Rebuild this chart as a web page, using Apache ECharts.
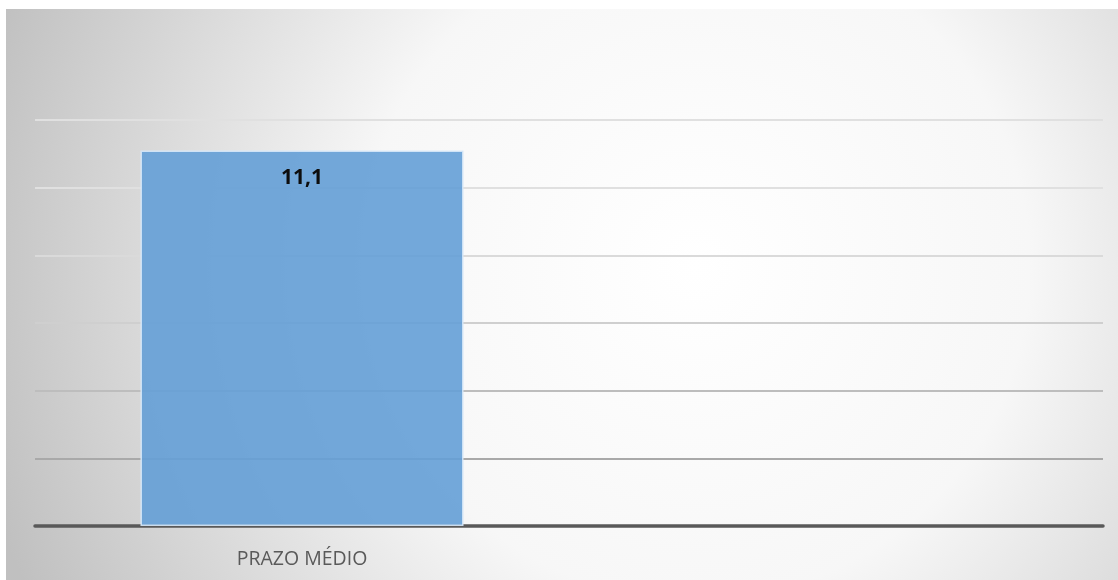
<!DOCTYPE html>
<html>
<head>
<meta charset="utf-8">
<script src="https://cdn.jsdelivr.net/npm/echarts@6/dist/echarts.min.js"></script>
<style>
  html, body { margin: 0; padding: 0; background: #ffffff; }
  #chart { position: absolute; left: 6px; top: 9px; width: 1112px; height: 571px; }
</style>
</head>
<body>
<div id="chart"></div>
<script>
// Categories on the horizontal axis (second slot left empty)
const categories = ['PRAZO MÉDIO', ''];
// Average term values
const values = [11.1, null];
// Value axis range
const yMin = 0;
const yMax = 12;
const yStep = 2;

const FONT = '"Open Sans", "Noto Sans", sans-serif';

const chart = echarts.init(document.getElementById('chart'), null, { renderer: 'canvas' });

chart.setOption({
  backgroundColor: {
    type: 'radial',
    x: 0.62, y: 0.45, r: 1.3,
    colorStops: [
      { offset: 0, color: '#ffffff' },
      { offset: 0.45, color: '#f7f7f7' },
      { offset: 1, color: '#c0c0c0' }
    ]
  },
  animation: false,
  grid: { left: 29, right: 15, top: 111, bottom: 54, containLabel: false },
  xAxis: {
    type: 'category',
    data: categories,
    axisLine: { show: true, lineStyle: { color: '#595959', width: 3.5 } },
    axisTick: { show: false },
    axisLabel: {
      color: '#595959',
      fontFamily: FONT,
      fontSize: 19.5,
      margin: 23
    }
  },
  yAxis: {
    type: 'value',
    min: yMin,
    max: yMax,
    interval: yStep,
    axisLine: { show: false },
    axisTick: { show: false },
    axisLabel: { show: false },
    splitLine: {
      show: true,
      lineStyle: {
        width: 2,
        color: ['#9a9a9a', '#a9a9a9', '#bdbdbd', '#cfcfcf', '#dadada', '#e0e0e0', '#e0e0e0']
      }
    }
  },
  series: [{
    type: 'bar',
    data: values,
    barCategoryGap: '39.5%',
    itemStyle: {
      color: 'rgba(100, 158, 214, 0.9)',
      borderColor: 'rgba(215, 232, 248, 0.9)',
      borderWidth: 1.5
    },
    label: {
      show: true,
      position: 'insideTop',
      distance: 17,
      formatter: p => String(p.value).replace('.', ','),
      color: '#0d0d0d',
      fontWeight: 'bold',
      fontSize: 21,
      fontFamily: FONT
    }
  }]
});
</script>
</body>
</html>
